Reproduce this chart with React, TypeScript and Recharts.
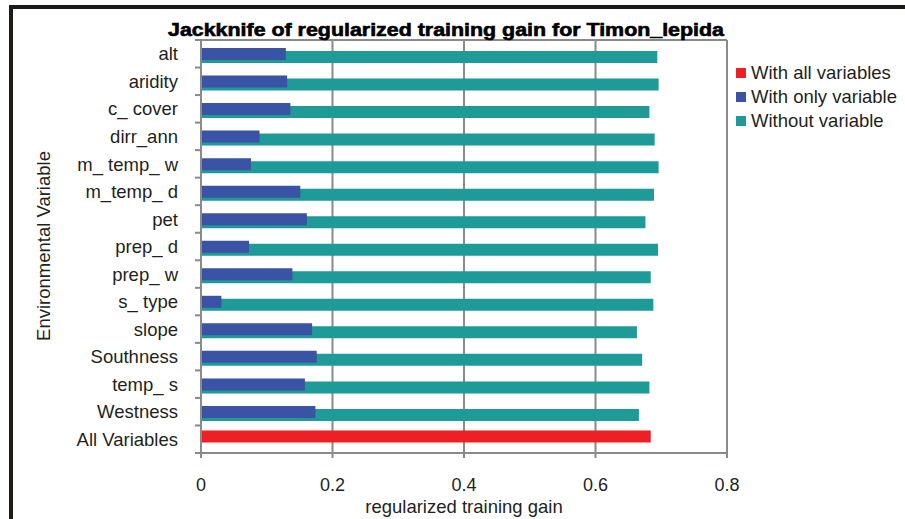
import React from "react";
import {
  BarChart,
  Bar,
  XAxis,
  YAxis,
  CartesianGrid,
  Legend,
  Label,
} from "recharts";

const categories = [
  "alt",
  "aridity",
  "c_ cover",
  "dirr_ann",
  "m_ temp_ w",
  "m_temp_ d",
  "pet",
  "prep_ d",
  "prep_ w",
  "s_ type",
  "slope",
  "Southness",
  "temp_ s",
  "Westness",
  "All Variables",
];

const withoutVariable = [
  0.694, 0.696, 0.682, 0.69, 0.696, 0.689, 0.676, 0.695, 0.684, 0.688, 0.663,
  0.671, 0.682, 0.666, null,
];

const withOnlyVariable = [
  0.129, 0.131, 0.136, 0.089, 0.076, 0.151, 0.161, 0.073, 0.139, 0.031, 0.169,
  0.176, 0.158, 0.174, null,
];

const withAllVariables = [
  null, null, null, null, null, null, null, null, null, null, null, null, null,
  null, 0.684,
];

const xTicks = [0, 0.2, 0.4, 0.6, 0.8];

const TEAL = "#1e9a98";
const BLUE = "#3a53a4";
const RED = "#ee1f25";
const GRID = "#8a8a8a";
const TEXT = "#231f20";
const FONT = "'Liberation Sans', Arial, sans-serif";

const data = categories.map((name, i) => ({
  name,
  without: withoutVariable[i],
  only: withOnlyVariable[i],
  all: withAllVariables[i],
}));

const legendItems = [
  { label: "With all variables", color: RED },
  { label: "With only variable", color: BLUE },
  { label: "Without variable", color: TEAL },
];

const PLOT_TOP = 40;
const PLOT_BOTTOM = 453;
const BAND = (PLOT_BOTTOM - PLOT_TOP) / categories.length;

function CategoryTick(props: any) {
  const { x, y, payload, index } = props;
  const axisX = x + 23;
  return (
    <g>
      <text
        x={x}
        y={y}
        dy="0.36em"
        textAnchor="end"
        fontSize={18.5}
        fill={TEXT}
        fontFamily={FONT}
      >
        {payload.value}
      </text>
      {index === 0 && (
        <line
          x1={axisX - 6}
          x2={axisX}
          y1={y - BAND / 2}
          y2={y - BAND / 2}
          stroke={GRID}
          strokeWidth={2}
        />
      )}
      <line
        x1={axisX - 6}
        x2={axisX}
        y1={y + BAND / 2}
        y2={y + BAND / 2}
        stroke={GRID}
        strokeWidth={2}
      />
    </g>
  );
}

function LegendBox() {
  return (
    <div style={{ fontFamily: FONT, fontSize: 18.5, color: TEXT }}>
      {legendItems.map((item) => (
        <div
          key={item.label}
          style={{
            display: "flex",
            alignItems: "center",
            height: 24,
            whiteSpace: "nowrap",
          }}
        >
          <span
            style={{
              display: "inline-block",
              width: 10,
              height: 10,
              background: item.color,
              marginRight: 5,
            }}
          />
          {item.label}
        </div>
      ))}
    </div>
  );
}

export default function App() {
  return (
    <div
      style={{
        position: "absolute",
        left: 0,
        top: 0,
        width: 905,
        height: 519,
        background: "#fff",
      }}
    >
      <div
        style={{
          position: "absolute",
          left: 9,
          top: 5,
          right: 0,
          bottom: 0,
          borderTop: "4px solid #1f1a17",
          borderLeft: "4px solid #1f1a17",
        }}
      />
      <BarChart
        width={905}
        height={519}
        data={data}
        layout="vertical"
        barSize={12}
        barGap={-15}
        margin={{ top: 0, right: 178, bottom: 0, left: 0 }}
        style={{ position: "absolute", left: 0, top: 0 }}
      >
        <CartesianGrid
          horizontal={false}
          stroke={GRID}
          strokeWidth={2}
          verticalValues={xTicks}
        />
        <XAxis
          type="number"
          domain={[0, 0.8]}
          ticks={xTicks}
          height={66}
          tickSize={5}
          tickMargin={20}
          axisLine={{ stroke: GRID, strokeWidth: 2 }}
          tickLine={{ stroke: GRID, strokeWidth: 2 }}
          tick={{ fontSize: 18, fill: TEXT, fontFamily: FONT }}
          tickFormatter={(v: number) => String(v)}
        >
          <Label
            value="regularized training gain"
            position="insideBottom"
            offset={6}
            fontSize={18.5}
            fill={TEXT}
            fontFamily={FONT}
          />
        </XAxis>
        <XAxis
          xAxisId="top"
          orientation="top"
          type="number"
          domain={[0, 0.8]}
          height={40}
          tick={false}
          tickLine={false}
          axisLine={{ stroke: GRID, strokeWidth: 2 }}
        >
          <Label
            content={() => (
              <text
                x={446}
                y={36}
                textAnchor="middle"
                fontSize={18}
                fontWeight="bold"
                fill="#000"
                stroke="#000"
                strokeWidth={0.6}
                fontFamily={FONT}
                textLength={556}
                lengthAdjust="spacingAndGlyphs"
              >
                Jackknife of regularized training gain for Timon_lepida
              </text>
            )}
          />
        </XAxis>
        <YAxis
          type="category"
          dataKey="name"
          width={201}
          tickSize={6}
          tickMargin={17}
          tickLine={false}
          axisLine={{ stroke: GRID, strokeWidth: 2 }}
          tick={<CategoryTick />}
          interval={0}
        >
          <Label
            content={() => (
              <text
                x={50}
                y={246}
                textAnchor="middle"
                fontSize={18.5}
                fill={TEXT}
                fontFamily={FONT}
                transform="rotate(-90, 50, 246)"
              >
                Environmental Variable
              </text>
            )}
          />
        </YAxis>
        <Legend
          layout="vertical"
          align="center"
          verticalAlign="middle"
          content={<LegendBox />}
          wrapperStyle={{ left: 736, top: 61, width: 170 }}
        />
        <Bar dataKey="without" fill={TEAL} isAnimationActive={false} />
        <Bar dataKey="only" fill={BLUE} isAnimationActive={false} />
        <Bar dataKey="all" fill={RED} isAnimationActive={false} />
      </BarChart>
    </div>
  );
}
